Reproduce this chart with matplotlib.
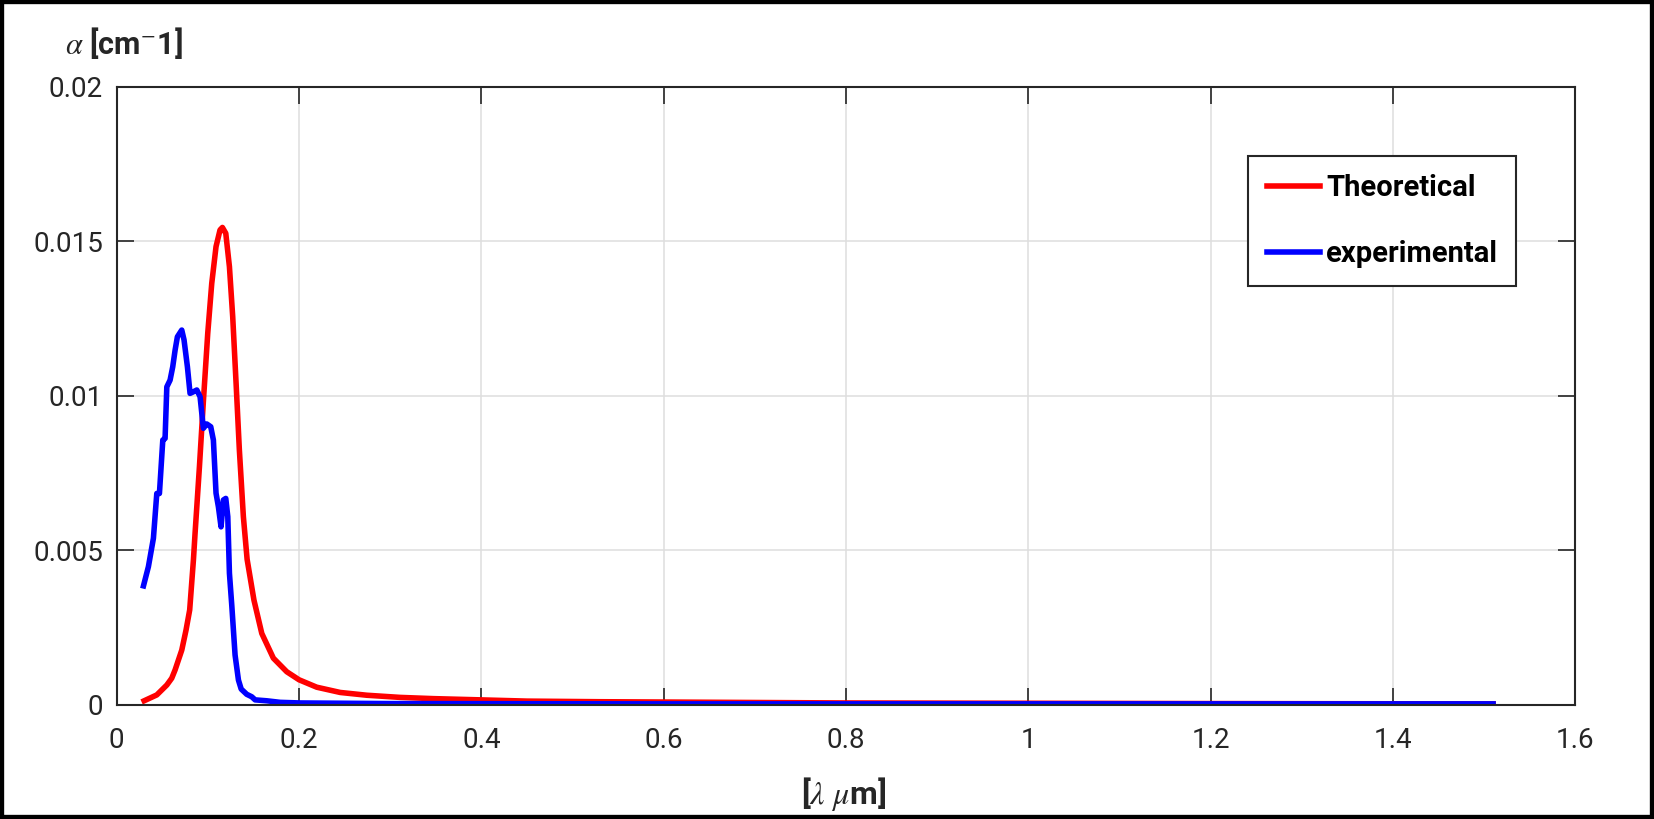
import matplotlib
matplotlib.use("Agg")
import matplotlib.pyplot as plt
from matplotlib.patches import Rectangle

# theoretical curve
theo_x = [0.030, 0.0439, 0.0549, 0.0603, 0.064, 0.0713, 0.076, 0.0800, 0.0841,
          0.0859, 0.0907, 0.0951, 0.0998, 0.1042, 0.1089, 0.1133, 0.1159, 0.1196,
          0.1236, 0.1272, 0.1309, 0.1345, 0.1389, 0.1430, 0.1505, 0.1591, 0.1718,
          0.1865, 0.2000, 0.2194, 0.2451, 0.2743, 0.3109, 0.3475, 0.3994, 0.45,
          0.5303, 0.6, 0.8, 1.0, 1.2, 1.51]
theo_y = [0.00012, 0.00031, 0.00063, 0.00085, 0.00112, 0.00176, 0.00241, 0.00306,
          0.00468, 0.00554, 0.0077, 0.00985, 0.01201, 0.01363, 0.01482, 0.01536,
          0.01544, 0.01525, 0.01417, 0.01255, 0.0104, 0.00824, 0.00608, 0.0047,
          0.00338, 0.0023, 0.0015, 0.00106, 0.0008, 0.00056, 0.00039, 0.0003,
          0.00023, 0.00019, 0.00015, 0.00011, 0.00009, 0.00008, 0.00005, 0.00004,
          0.00003, 0.00002]

# experimental curve
exp_x = [0.0293, 0.0347, 0.0402, 0.0439, 0.0468, 0.0505, 0.053, 0.0549, 0.0585,
         0.0614, 0.064, 0.0665, 0.0713, 0.0738, 0.0775, 0.0804, 0.084, 0.0878,
         0.0914, 0.095, 0.0987, 0.1031, 0.106, 0.1089, 0.1115, 0.1144, 0.117,
         0.1196, 0.1218, 0.1236, 0.1262, 0.1298, 0.1335, 0.1365, 0.1426, 0.1481,
         0.1518, 0.1646, 0.1792, 0.2011, 0.3, 0.6, 1.0, 1.51]
exp_y = [0.00384, 0.00446, 0.00538, 0.00683, 0.00683, 0.00856, 0.00861, 0.01028,
         0.0105, 0.01093, 0.01147, 0.0119, 0.01212, 0.0118, 0.01093, 0.01007,
         0.01012, 0.01018, 0.00996, 0.00894, 0.00908, 0.00899, 0.00856, 0.00684,
         0.0064, 0.00575, 0.00662, 0.00667, 0.00608, 0.00425, 0.0032, 0.0016,
         0.00079, 0.0005, 0.00033, 0.00025, 0.00015, 0.00012, 0.00007, 0.00005,
         0.00003, 0.00002, 0.00002, 0.00002]

x_ticks = [0, 0.2, 0.4, 0.6, 0.8, 1.0, 1.2, 1.4, 1.6]
x_tick_labels = ["0", "0.2", "0.4", "0.6", "0.8", "1", "1.2", "1.4", "1.6"]
y_ticks = [0, 0.005, 0.01, 0.015, 0.02]
y_tick_labels = ["0", "0.005", "0.01", "0.015", "0.02"]

FONT = ["Liberation Sans Narrow", "Roboto", "DejaVu Sans"]
plt.rcParams["font.family"] = FONT
plt.rcParams["mathtext.fontset"] = "stix"

fig = plt.figure(figsize=(16.54, 8.19), dpi=100)
ax = fig.add_axes([0.0706, 0.1398, 0.8817, 0.7545])

ax.plot(theo_x, theo_y, color="red", lw=4, label="Theoretical")
ax.plot(exp_x, exp_y, color="blue", lw=4, label="experimental")

ax.set_xlim(0, 1.6)
ax.set_ylim(0, 0.02)
ax.set_xticks(x_ticks)
ax.set_xticklabels(x_tick_labels)
ax.set_yticks(y_ticks)
ax.set_yticklabels(y_tick_labels)
ax.tick_params(direction="in", length=12, width=1.2, colors="#262626",
               labelsize=20, top=True, right=True, pad=10)
ax.tick_params(axis="x", pad=16)
ax.grid(True, color="#dedede", lw=1.1)
ax.set_axisbelow(True)
for sp in ax.spines.values():
    sp.set_color("#262626")
    sp.set_linewidth(1.5)

leg = ax.legend(loc="upper left", bbox_to_anchor=(0.776, 0.888), borderaxespad=0,
                fancybox=False, framealpha=1, edgecolor="#262626",
                handlelength=1.85, borderpad=0.62, labelspacing=1.3,
                handletextpad=0.2, prop={"weight": "bold", "size": 21})
leg.get_frame().set_linewidth(1.5)

fig.text(0.039, 0.947, r"$\alpha$ [cm$^{-}$1]", fontsize=22, fontweight="bold",
         ha="left", va="center", color="#262626")
fig.text(0.51, 0.031, r"[$\lambda$ $\mu$m]", fontsize=23, fontweight="bold",
         ha="center", va="center", color="#262626")

fig.patches.append(Rectangle((0, 0), 1, 1, transform=fig.transFigure, fill=False,
                             edgecolor="black", lw=6, zorder=10))

fig.savefig("out.png", dpi=100)
